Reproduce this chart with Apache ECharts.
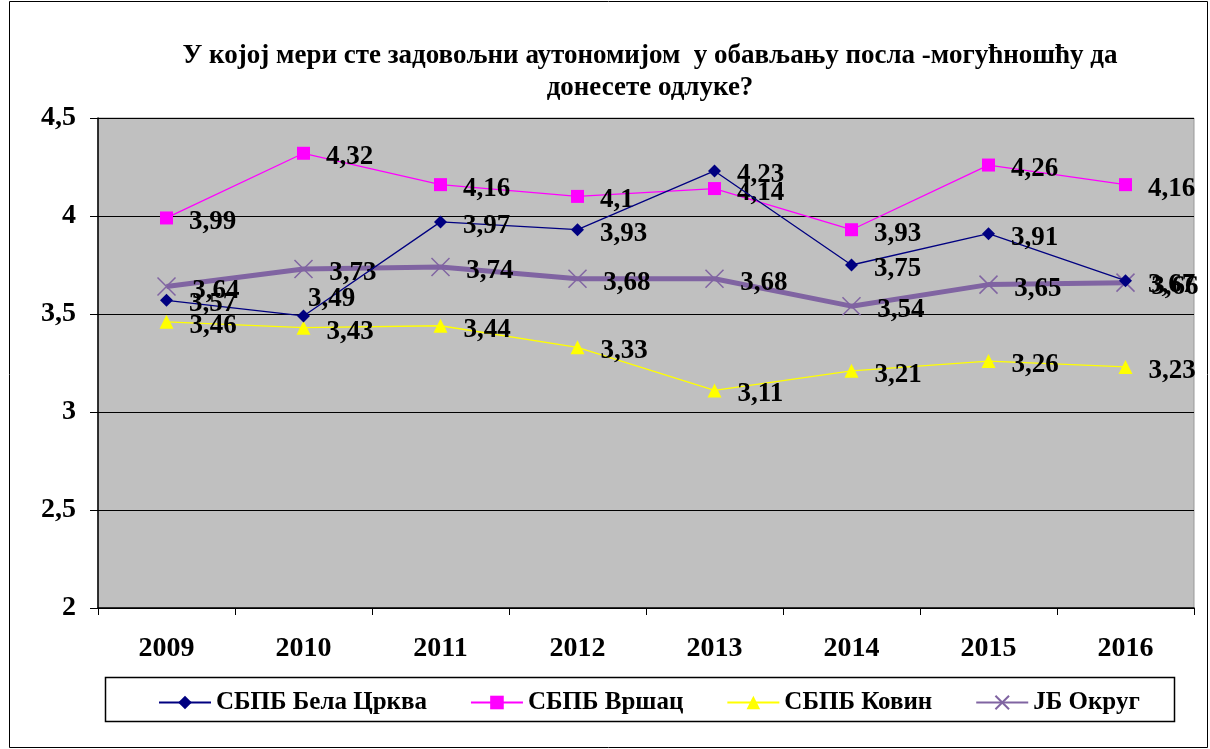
<!DOCTYPE html>
<html><head><meta charset="utf-8">
<script src="https://cdn.jsdelivr.net/npm/echarts@6/dist/echarts.min.js"></script>
<style>html,body{margin:0;padding:0;background:#fff}#c{width:1210px;height:749px}</style>
</head><body><div id="c"></div>
<script>
const titleText = "У којој мери сте задовољни аутономијом  у обављању посла -могућношћу да\nдонесете одлуке?";
const categories = ["2009","2010","2011","2012","2013","2014","2015","2016"];
const seriesNames = ["СБПБ Бела Црква","СБПБ Вршац","СБПБ Ковин","ЈБ Округ"];
const belaCrkva = [3.57,3.49,3.97,3.93,4.23,3.75,3.91,3.67];
const vrsac = [3.99,4.32,4.16,4.1,4.14,3.93,4.26,4.16];
const kovin = [3.46,3.43,3.44,3.33,3.11,3.21,3.26,3.23];
const okrug = [3.64,3.73,3.74,3.68,3.68,3.54,3.65,3.66];

const FONT = '"Liberation Serif","Times New Roman",serif';
const fmt = v => String(v).replace('.', ',');
const lbl = {show:true, position:'right', distance:16, offset:[0,4], color:'#000', fontFamily:FONT, fontWeight:'bold', fontSize:27,
  formatter: p => fmt(p.value)};
const xPath = 'path://M0,0L10,10M10,0L0,10';

function withSpecial(arr, idx, labelOverride){
  return arr.map((v,i)=> i===idx ? {value:v, label:labelOverride} : v);
}

const chart = echarts.init(document.getElementById('c'), null, {renderer:'canvas'});
chart.setOption({
  backgroundColor:'#fff',
  animation:false,
  title:{text:titleText, left:645, top:35, textAlign:'center',
    textStyle:{fontFamily:FONT, fontWeight:'bold', fontSize:27, lineHeight:32, color:'#000'}},
  graphic:[
    {type:'rect', shape:{x:9.5,y:1.5,width:1198,height:746}, style:{fill:'none', stroke:'#000', lineWidth:1}, z:-1},
    {type:'rect', shape:{x:105.5,y:677.5,width:1069,height:44}, style:{fill:'none', stroke:'#000', lineWidth:1.5}, z:-1}
  ],
  legend:{data:seriesNames, left:153, top:685, itemGap:43, itemWidth:52, itemHeight:17,
    textStyle:{fontFamily:FONT, fontWeight:'bold', fontSize:25, color:'#000'}},
  grid:{left:98, top:118, right:16, bottom:141, show:true, backgroundColor:'#c0c0c0', borderColor:'#999', borderWidth:1},
  xAxis:{type:'category', data:categories, boundaryGap:true,
    axisLine:{lineStyle:{color:'#000', width:1.5}},
    axisTick:{show:true, inside:false, length:7, lineStyle:{color:'#000'}},
    axisLabel:{color:'#000', fontFamily:FONT, fontWeight:'bold', fontSize:28, margin:27}},
  yAxis:{type:'value', min:2, max:4.5, interval:0.5,
    axisLine:{show:true, lineStyle:{color:'#000', width:1.5}},
    axisTick:{show:true, length:8, lineStyle:{color:'#000'}},
    splitLine:{show:true, lineStyle:{color:'#000', width:1}},
    axisLabel:{color:'#000', fontFamily:FONT, fontWeight:'bold', fontSize:28, margin:22, formatter:v=>fmt(v)}},
  series:[
    {name:seriesNames[0], type:'line', data:withSpecial(belaCrkva,1,{position:'top', distance:5, offset:[28,8]}),
     color:'#000080', lineStyle:{width:1.3, color:'#000080'}, symbol:'diamond', symbolSize:13,
     itemStyle:{color:'#000080'}, label:lbl, z:4},
    {name:seriesNames[1], type:'line', data:vrsac,
     color:'#ff00ff', lineStyle:{width:1.3, color:'#ff00ff'}, symbol:'rect', symbolSize:13,
     itemStyle:{color:'#ff00ff'}, label:lbl, z:3},
    {name:seriesNames[2], type:'line', data:kovin,
     color:'#ffff00', lineStyle:{width:1.3, color:'#ffff00'}, symbol:'triangle', symbolSize:14,
     itemStyle:{color:'#ffff00'}, label:lbl, z:3},
    {name:seriesNames[3], type:'line', data:okrug,
     color:'#8064a2', lineStyle:{width:5, color:'#8064a2'}, symbol:xPath, symbolSize:18,
     itemStyle:{color:'#8064a2', borderColor:'#8064a2', borderWidth:1.5}, label:lbl, z:2}
  ]
});
</script></body></html>
